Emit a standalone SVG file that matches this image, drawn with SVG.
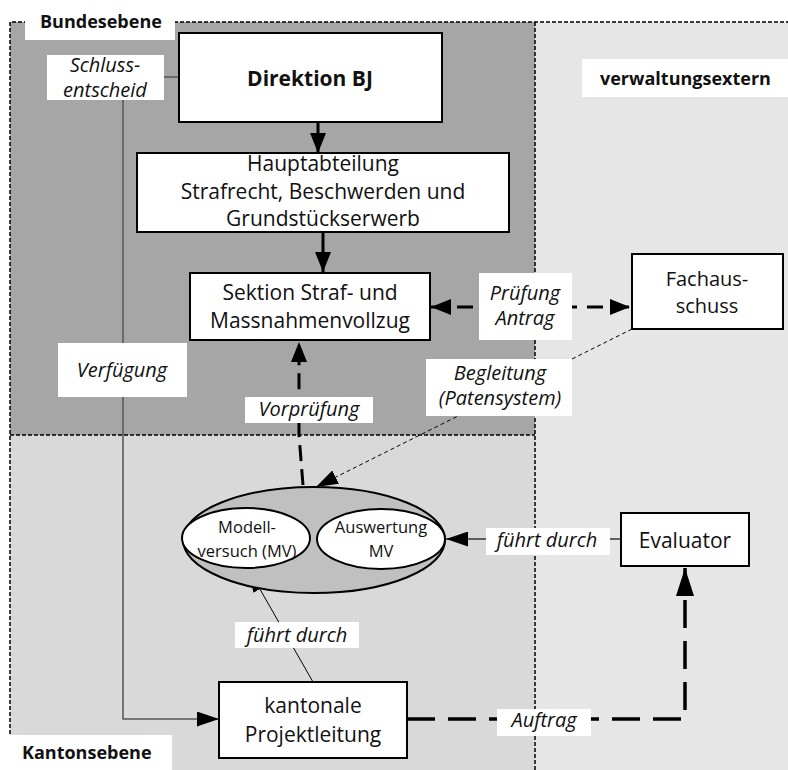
<svg xmlns="http://www.w3.org/2000/svg" width="788" height="770" viewBox="0 0 788 770">
<style>
.t{font-family:"Open Sans","Noto Sans","DejaVu Sans",sans-serif;fill:#111;text-anchor:middle}
.n{font-size:21px}
.i{font-size:20px;font-style:italic}
.b{font-weight:bold;font-size:18px;text-anchor:start}
.e{font-size:16.5px}
.box{fill:#fff;stroke:#000;stroke-width:2}
.lbl{fill:#fff;stroke:none}
.border{fill:none;stroke:#000;stroke-width:1.5;stroke-dasharray:4 2}
</style>
<defs>
<marker id="mS" markerUnits="userSpaceOnUse" markerWidth="20" markerHeight="16" refX="20" refY="8" orient="auto-start-reverse"><path d="M0,0 L20,8 L0,16 z" fill="#000"/></marker>
<marker id="mE" markerUnits="userSpaceOnUse" markerWidth="28" markerHeight="18" refX="28" refY="9" orient="auto"><path d="M0,0 L28,9 L0,18 z" fill="#000"/></marker>
<marker id="mT" markerUnits="userSpaceOnUse" markerWidth="22" markerHeight="15" refX="22" refY="7.5" orient="auto"><path d="M0,0 L22,7.5 L0,15 z" fill="#000"/></marker>
</defs>

<g id="regions">
<rect x="10" y="22" width="525" height="413" fill="#a6a6a6"/>
<rect x="10" y="435" width="525" height="335" fill="#d9d9d9"/>
<rect x="535" y="22" width="253" height="748" fill="#e6e6e6"/>
<path class="border" d="M10,770 V22 H788 M535,22 V770 M10,435 H535"/>
</g>

<g id="connectors" fill="none">
<line x1="318" y1="122" x2="318" y2="153" stroke="#000" stroke-width="3" marker-end="url(#mS)"/>
<line x1="323" y1="232" x2="323" y2="272" stroke="#000" stroke-width="3" marker-end="url(#mS)"/>
<line x1="431" y1="307" x2="630" y2="307" stroke="#000" stroke-width="3" stroke-dasharray="16 10" marker-start="url(#mS)" marker-end="url(#mS)"/>
<polyline points="303,485 299,435 299,342" stroke="#000" stroke-width="3" stroke-dasharray="16 8" marker-end="url(#mS)"/>
<line x1="632" y1="329" x2="316" y2="487" stroke="#000" stroke-width="1" stroke-dasharray="4 3" marker-end="url(#mT)"/>
<line x1="621" y1="539" x2="446" y2="539" stroke="#333" stroke-width="1.3" marker-end="url(#mT)"/>
<polyline points="407,719 685,719 685,568" stroke="#000" stroke-width="3.5" stroke-dasharray="28 13" marker-end="url(#mE)"/>
<line x1="313" y1="682" x2="249" y2="570" stroke="#000" stroke-width="1" marker-end="url(#mT)"/>
<line x1="164" y1="77" x2="179" y2="77" stroke="#555" stroke-width="1.5"/>
<polyline points="123,100 123,719 219,719" stroke="#555" stroke-width="1.5" marker-end="url(#mT)"/>
</g>

<g id="labels">
<rect class="lbl" x="25" y="0" width="150" height="40"/>
<text class="t b" x="40" y="28">Bundesebene</text>
<rect class="lbl" x="582" y="59" width="206" height="38"/>
<text class="t b" x="600" y="85">verwaltungsextern</text>
<rect class="lbl" x="0" y="735" width="172" height="35"/>
<text class="t b" x="22" y="759">Kantonsebene</text>
<rect class="lbl" x="47" y="55" width="117" height="45"/>
<text class="t i" x="105" y="72" font-size="19">Schluss-</text>
<text class="t i" x="105" y="97" font-size="19">entscheid</text>
<rect class="lbl" x="58" y="343" width="129" height="54"/>
<text class="t i" x="122" y="377">Verfügung</text>
<rect class="lbl" x="479" y="273" width="93" height="67"/>
<text class="t i" x="525" y="300">Prüfung</text>
<text class="t i" x="525" y="325">Antrag</text>
<rect class="lbl" x="426" y="359" width="146" height="57"/>
<text class="t i" x="500" y="380" font-size="19">Begleitung</text>
<text class="t i" x="500" y="405" font-size="19">(Patensystem)</text>
<rect class="lbl" x="245" y="397" width="128" height="26"/>
<text class="t i" x="309" y="416">Vorprüfung</text>
<rect class="lbl" x="486" y="528" width="124" height="27"/>
<text class="t i" x="547" y="547">führt durch</text>
<rect class="lbl" x="235" y="622" width="124" height="26"/>
<text class="t i" x="297" y="642">führt durch</text>
<rect class="lbl" x="497" y="709" width="94" height="27"/>
<text class="t i" x="544" y="727">Auftrag</text>
</g>

<g id="direktion">
<rect class="box" x="179" y="33" width="263" height="89"/>
<text class="t" x="310" y="86" font-size="21" font-weight="bold">Direktion BJ</text>
</g>
<g id="hauptabteilung">
<rect class="box" x="137" y="153" width="372" height="79"/>
<text class="t n" x="323" y="171">Hauptabteilung</text>
<text class="t n" x="323" y="199">Strafrecht, Beschwerden und</text>
<text class="t n" x="323" y="226">Grundstückserwerb</text>
</g>
<g id="sektion">
<rect class="box" x="190" y="273" width="240" height="67"/>
<text class="t n" x="310" y="300">Sektion Straf- und</text>
<text class="t n" x="310" y="328">Massnahmenvollzug</text>
</g>
<g id="fachausschuss">
<rect class="box" x="632" y="254" width="151" height="75"/>
<text class="t" font-size="20" x="707" y="286">Fachaus-</text>
<text class="t" font-size="20" x="707" y="313">schuss</text>
</g>
<g id="modellversuch">
<ellipse cx="314" cy="540" rx="131" ry="53" fill="#c0c0c0" stroke="#000" stroke-width="2"/>
<ellipse cx="246" cy="538" rx="64" ry="30" fill="#fff" stroke="#000" stroke-width="2"/>
<ellipse cx="381" cy="539" rx="64" ry="30" fill="#fff" stroke="#000" stroke-width="2"/>
<text class="t e" x="247" y="533">Modell-</text>
<text class="t e" x="247" y="557">versuch (MV)</text>
<text class="t e" x="381" y="533">Auswertung</text>
<text class="t e" x="381" y="557">MV</text>
</g>
<g id="evaluator">
<rect class="box" x="621" y="513" width="128" height="53"/>
<text class="t" font-size="21" x="685" y="548">Evaluator</text>
</g>
<g id="projektleitung">
<rect class="box" x="219" y="682" width="188" height="76"/>
<text class="t" font-size="21" x="313" y="713">kantonale</text>
<text class="t" font-size="21" x="313" y="742">Projektleitung</text>
</g>
</svg>
